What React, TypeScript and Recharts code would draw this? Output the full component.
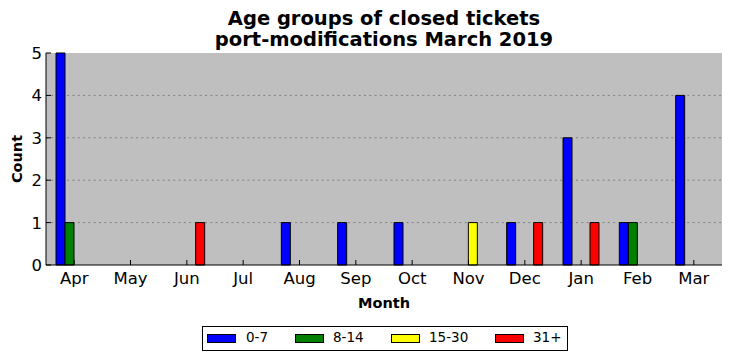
import React from "react";
import { BarChart, Bar, XAxis, YAxis, CartesianGrid } from "recharts";

const months = ["Apr", "May", "Jun", "Jul", "Aug", "Sep", "Oct", "Nov", "Dec", "Jan", "Feb", "Mar"];
const age0to7 = [5, 0, 0, 0, 1, 1, 1, 0, 1, 3, 1, 4];
const age8to14 = [1, 0, 0, 0, 0, 0, 0, 0, 0, 0, 1, 0];
const age15to30 = [0, 0, 0, 0, 0, 0, 0, 1, 0, 0, 0, 0];
const age31plus = [0, 0, 1, 0, 0, 0, 0, 0, 1, 1, 0, 0];
const yTicks = [0, 1, 2, 3, 4, 5];

const series = [
  { key: "a", name: "0-7", color: "#0000ff", values: age0to7 },
  { key: "b", name: "8-14", color: "#008000", values: age8to14 },
  { key: "c", name: "15-30", color: "#ffff00", values: age15to30 },
  { key: "d", name: "31+", color: "#ff0000", values: age31plus },
];

const data = months.map((m, i) => {
  const row: Record<string, string | number> = { month: m };
  series.forEach((s) => (row[s.key] = s.values[i]));
  return row;
});

const FONT = "'DejaVu Sans', sans-serif";
const TICK = 5;

const BottomTick = (p: any) => (
  <g>
    <line x1={p.x} x2={p.x} y1={p.y} y2={p.y - TICK} stroke="#000" />
    <text x={p.x} y={p.y + 19} textAnchor="middle" fontSize={16.5} fontFamily={FONT} fill="#000">
      {p.payload.value}
    </text>
  </g>
);

const TopTick = (p: any) => <line x1={p.x} x2={p.x} y1={p.y} y2={p.y + TICK} stroke="#000" />;

const LeftTick = (p: any) => (
  <g>
    <line x1={p.x} x2={p.x + TICK} y1={p.y} y2={p.y} stroke="#000" />
    <text x={p.x - 4} y={p.y + 6} textAnchor="end" fontSize={16.5} fontFamily={FONT} fill="#000">
      {p.payload.value}
    </text>
  </g>
);

const RightTick = (p: any) => <line x1={p.x} x2={p.x - TICK} y1={p.y} y2={p.y} stroke="#000" />;

// legend entries placed like the matplotlib legend below the axes
const legendPos = [
  { sw: 207, tx: 246 },
  { sw: 295, tx: 333 },
  { sw: 391, tx: 429 },
  { sw: 495, tx: 533 },
];

export default function App() {
  return (
    <div style={{ position: "relative", width: 732, height: 361, background: "#fff", fontFamily: FONT }}>
      <style>{`body{margin:0}`}</style>
      <div
        style={{
          position: "absolute",
          left: 0,
          width: 768,
          top: 8,
          textAlign: "center",
          fontSize: 19.5,
          lineHeight: "21px",
          fontWeight: "bold",
          color: "#000",
        }}
      >
        Age groups of closed tickets
        <br />
        port-modifications March 2019
      </div>
      <BarChart
        width={732}
        height={361}
        data={data}
        margin={{ top: 53, right: 10, bottom: 0, left: 0 }}
        barGap={0}
        barSize={9}
      >
        <CartesianGrid
          vertical={false}
          fill="#bfbfbf"
          stroke="#808080"
          strokeDasharray="2 3.3"
          horizontalValues={[1, 2, 3, 4]}
        />
        <XAxis
          dataKey="month"
          interval={0}
          height={96}
          tickSize={0}
          tickMargin={0}
          tick={<BottomTick />}
          axisLine={{ stroke: "#000" }}
          tickLine={false}
          label={(props: any) => {
            const vb = props.viewBox;
            return (
              <text
                x={vb.x + vb.width / 2}
                y={vb.y + 43}
                textAnchor="middle"
                fontSize={14.5}
                fontWeight="bold"
                fontFamily={FONT}
                fill="#000"
              >
                Month
              </text>
            );
          }}
        />
        <XAxis
          xAxisId="top"
          dataKey="month"
          orientation="top"
          interval={0}
          height={0}
          tickSize={0}
          tickMargin={0}
          tick={<TopTick />}
          axisLine={{ stroke: "#000" }}
          tickLine={false}
        />
        <YAxis
          domain={[0, 5]}
          ticks={yTicks}
          width={46}
          tickSize={0}
          tickMargin={0}
          tick={<LeftTick />}
          axisLine={{ stroke: "#000" }}
          tickLine={false}
          label={(props: any) => {
            const vb = props.viewBox;
            const cx = 22;
            const cy = vb.y + vb.height / 2;
            return (
              <text
                x={cx}
                y={cy}
                transform={`rotate(-90 ${cx} ${cy})`}
                textAnchor="middle"
                fontSize={14.5}
                fontWeight="bold"
                fontFamily={FONT}
                fill="#000"
              >
                Count
              </text>
            );
          }}
        />
        <YAxis
          yAxisId="right"
          orientation="right"
          domain={[0, 5]}
          ticks={yTicks}
          width={0}
          tickSize={0}
          tickMargin={0}
          tick={<RightTick />}
          axisLine={{ stroke: "#000" }}
          tickLine={false}
        />
        {series.map((s) => (
          <Bar
            key={s.key}
            dataKey={s.key}
            name={s.name}
            fill={s.color}
            stroke="#000"
            strokeWidth={1}
            isAnimationActive={false}
          />
        ))}
      </BarChart>
      <div
        style={{
          position: "absolute",
          left: 202,
          top: 326,
          width: 364,
          height: 23,
          border: "1px solid #000",
          background: "#fff",
        }}
      >
        {series.map((s, i) => (
          <React.Fragment key={s.key}>
            <div
              style={{
                position: "absolute",
                left: legendPos[i].sw - 203,
                top: 7,
                width: 27,
                height: 7,
                background: s.color,
                border: "1px solid #000",
              }}
            />
            <div
              style={{
                position: "absolute",
                left: legendPos[i].tx - 203,
                top: 3,
                fontSize: 13.5,
                lineHeight: "15px",
                color: "#000",
              }}
            >
              {s.name}
            </div>
          </React.Fragment>
        ))}
      </div>
    </div>
  );
}
